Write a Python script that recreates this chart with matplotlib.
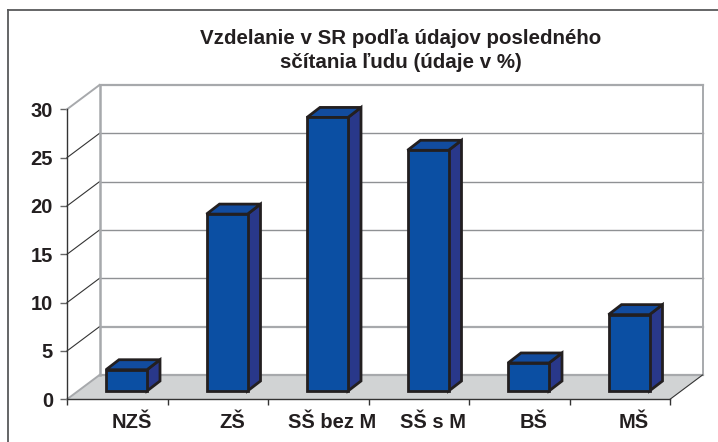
import matplotlib
matplotlib.use('Agg')
import matplotlib.pyplot as plt
from matplotlib.patches import Polygon
from matplotlib.lines import Line2D

plt.rcParams['font.family'] = ['Liberation Sans', 'DejaVu Sans']

# Data
categories = ['NZŠ', 'ZŠ', 'SŠ bez M', 'SŠ s M', 'BŠ', 'MŠ']
values = [2.2, 18.3, 28.3, 24.9, 2.9, 7.9]
y_ticks = [0, 5, 10, 15, 20, 25, 30]

W, H = 718, 442
fig = plt.figure(figsize=(W / 100, H / 100), dpi=100)

# axes box in pixels, front plane of the fake 3D chart
left, right, top, bottom = 67, 670, 109.3, 399.3
ax = fig.add_axes([left / W, 1 - bottom / H, (right - left) / W, (bottom - top) / H])
ax.set_xlim(0, len(categories))
ax.set_ylim(0, 30)
ax.patch.set_visible(False)

# depth of the wall and of the bars, in data units
px_x = len(categories) / (right - left)
px_y = 30 / (bottom - top)
dx, dy = 32.5 * px_x, 24.3 * px_y
bdx, bdy = 13 * px_x, 10 * px_y
bar_w = 41 * px_x
bar_off = 39 * px_x
base = 8.3 * px_y

n = len(categories)
text_col = '#231f20'
grid_col = '#8f9194'
wall_col = '#a7a9ac'

# floor
ax.add_patch(Polygon([(0, 0), (n, 0), (n + dx, dy), (dx, dy)], fc='#d1d3d4', ec='none', zorder=1, clip_on=False))

# gridlines on the back wall and the diagonals on the left side
for v in y_ticks:
    thick = v in (0, 5, 30)
    col = wall_col if thick else grid_col
    ax.plot([dx, n + dx], [v + dy, v + dy], color=col, lw=1.6 if thick else 1.0, zorder=2, clip_on=False)
    ax.plot([0, dx], [v, v + dy], color=wall_col if v in (0, 30) else '#333333',
            lw=1.4 if v in (0, 30) else 0.8, zorder=2, clip_on=False)
ax.plot([dx, dx], [dy, 30 + dy], color=wall_col, lw=1.8, zorder=2, clip_on=False)
ax.plot([n + dx, n + dx], [dy, 30 + dy], color=wall_col, lw=1.4, zorder=2, clip_on=False)
ax.plot([n, n + dx], [0, dy], color='#333333', lw=0.8, zorder=2, clip_on=False)

# bars
for i, v in enumerate(values):
    x0 = i + bar_off
    x1 = x0 + bar_w
    y1 = v + base
    style = dict(ec='#231f20', lw=2.0, joinstyle='miter', zorder=3, clip_on=False)
    ax.add_patch(Polygon([(x1, base), (x1 + bdx, base + bdy), (x1 + bdx, y1 + bdy), (x1, y1)], fc='#29388a', **style))
    ax.add_patch(Polygon([(x0, y1), (x1, y1), (x1 + bdx, y1 + bdy), (x0 + bdx, y1 + bdy)], fc='#124c9f', **style))
    ax.add_patch(Polygon([(x0, base), (x1, base), (x1, y1), (x0, y1)], fc='#0b4fa3', **style))

# axes
for s in ('top', 'right'):
    ax.spines[s].set_visible(False)
for s in ('left', 'bottom'):
    ax.spines[s].set_color('#333333')
    ax.spines[s].set_linewidth(1.0)
ax.set_yticks(y_ticks)
ax.set_xticks(range(n + 1))
ax.set_xticklabels([])
ax.set_xticks([i + 0.64 for i in range(n)], labels=categories, minor=True)
ax.tick_params(axis='x', which='major', length=4.5, width=1, color='#333333')
ax.tick_params(axis='x', which='minor', length=0, pad=10, labelsize=14.5, labelcolor=text_col)
ax.tick_params(axis='y', length=5, width=1, color='#666666', pad=5, labelsize=14.5, labelcolor=text_col)
for lab in ax.get_xticklabels(minor=True) + ax.get_yticklabels():
    lab.set_fontweight('bold')

fig.text(401 / W, 1 - 38 / H, 'Vzdelanie v SR podľa údajov posledného', ha='center', va='center',
         fontsize=14.8, fontweight='bold', color=text_col)
fig.text(401 / W, 1 - 62 / H, 'sčítania ľudu (údaje v %)', ha='center', va='center',
         fontsize=14.8, fontweight='bold', color=text_col)

# outer frame, only top and left are visible
fig.add_artist(Line2D([8 / W, 1], [1 - 9.5 / H, 1 - 9.5 / H], color='#58595b', lw=1.3))
fig.add_artist(Line2D([8 / W, 8 / W], [0, 1 - 9.5 / H], color='#58595b', lw=1.3))

fig.savefig('out.png', dpi=100)
